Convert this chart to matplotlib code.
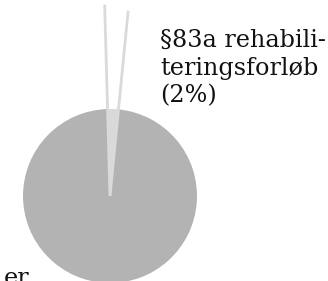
import matplotlib
matplotlib.use("Agg")
import matplotlib.pyplot as plt
from matplotlib.patches import Wedge
import numpy as np

labels = ["§83a rehabili-\nteringsforløb\n(2%)", "er"]
values = [2, 98]
colors = ["#b3b3b3", "#b3b3b3"]
start_angle = 84.4

W, H = 328, 281
fig = plt.figure(figsize=(W / 100, H / 100), dpi=100)
ax = fig.add_axes([0, 0, 1, 1])
ax.axis("off")

cx, cy, r = 110, 196, 87

wedges, _ = ax.pie(values, colors=colors, startangle=start_angle,
                   counterclock=True, radius=1, normalize=True,
                   wedgeprops=dict(linewidth=0))
ax.set_xlim(-cx / r, (W - cx) / r)
ax.set_ylim(-(H - cy) / r, cy / r)
ax.set_aspect("auto")

w = wedges[0]
ax.add_patch(Wedge((0, 0), 1.0, w.theta1, w.theta2,
                   facecolor=(1, 1, 1, 0.5), edgecolor="none"))
for ang, length in ((w.theta1, 2.14), (w.theta2, 2.2)):
    a = np.deg2rad(ang)
    ax.plot([0, length * np.cos(a)], [0, length * np.sin(a)],
            color="#dadada", linewidth=2.0, solid_capstyle="butt")

fig.text(160 / W, 1 - 29 / H, labels[0], ha="left", va="top",
         fontsize=17.2, family="DejaVu Serif", color="#111111",
         linespacing=1.25)
fig.text(29 / W, 1 - 285 / H, labels[1], ha="right", va="baseline",
         fontsize=17.2, family="DejaVu Serif", color="#111111")

fig.savefig("out.png", dpi=100)
